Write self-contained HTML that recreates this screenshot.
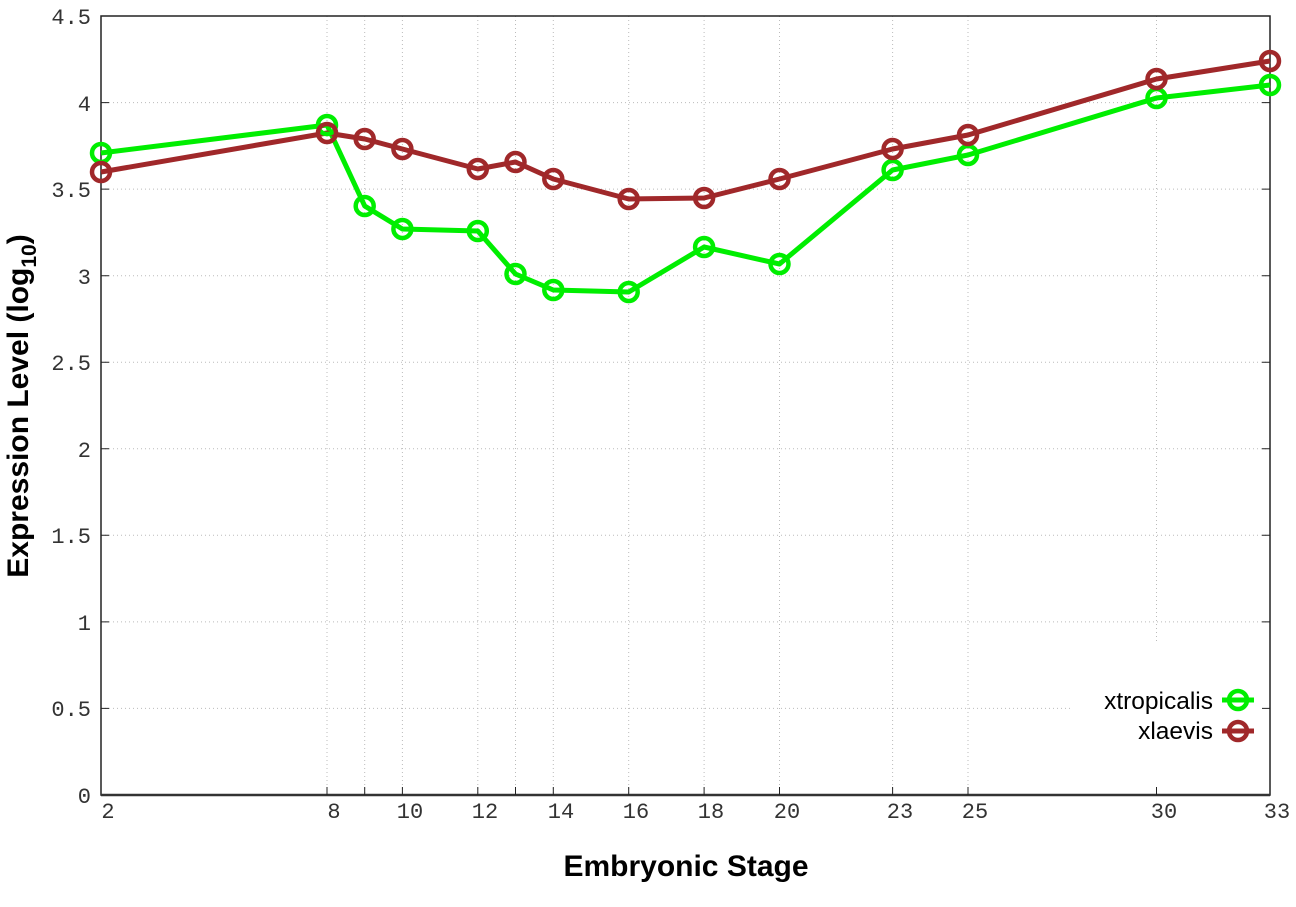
<!DOCTYPE html>
<html><head><meta charset="utf-8"><style>
html,body{margin:0;padding:0;background:#fff;}
svg{display:block;}
.t{font-family:"Liberation Mono",monospace;font-size:22px;fill:#333;}
.b{font-family:"Liberation Sans",sans-serif;font-weight:bold;font-size:30px;fill:#000;}
.l{font-family:"Liberation Sans",sans-serif;font-size:24.5px;fill:#000;}
</style></head><body>
<svg width="1296" height="907" xmlns="http://www.w3.org/2000/svg">
<g stroke="#bbb" stroke-width="1" stroke-dasharray="1,3">
<line x1="101" x2="1270" y1="708.4" y2="708.4"/><line x1="101" x2="1270" y1="621.9" y2="621.9"/>
<line x1="101" x2="1270" y1="535.3" y2="535.3"/><line x1="101" x2="1270" y1="448.8" y2="448.8"/>
<line x1="101" x2="1270" y1="362.2" y2="362.2"/><line x1="101" x2="1270" y1="275.7" y2="275.7"/>
<line x1="101" x2="1270" y1="189.1" y2="189.1"/><line x1="101" x2="1270" y1="102.6" y2="102.6"/>
<line x1="327" x2="327" y1="16" y2="795"/><line x1="364.7" x2="364.7" y1="16" y2="795"/>
<line x1="402.4" x2="402.4" y1="16" y2="795"/><line x1="477.8" x2="477.8" y1="16" y2="795"/>
<line x1="515.5" x2="515.5" y1="16" y2="795"/><line x1="553.3" x2="553.3" y1="16" y2="795"/>
<line x1="628.7" x2="628.7" y1="16" y2="795"/><line x1="704.1" x2="704.1" y1="16" y2="795"/>
<line x1="779.5" x2="779.5" y1="16" y2="795"/><line x1="892.6" x2="892.6" y1="16" y2="795"/>
<line x1="968" x2="968" y1="16" y2="795"/><line x1="1156.5" x2="1156.5" y1="16" y2="795"/>
</g>
<rect x="1070" y="642" width="198" height="152" fill="#fff"/>
<rect x="101" y="16" width="1169" height="779" fill="none" stroke="#222" stroke-width="1.5"/>
<line x1="101" x2="1270" y1="795" y2="795" stroke="#333" stroke-width="2.5"/>
<g stroke="#222" stroke-width="1">
<path d="M101 708.4h8M101 621.9h8M101 535.3h8M101 448.8h8M101 362.2h8M101 275.7h8M101 189.1h8M101 102.6h8M101 16h8"/>
<path d="M1270 708.4h-8M1270 621.9h-8M1270 535.3h-8M1270 448.8h-8M1270 362.2h-8M1270 275.7h-8M1270 189.1h-8M1270 102.6h-8"/>
<path d="M327 795v-8M364.7 795v-8M402.4 795v-8M477.8 795v-8M515.5 795v-8M553.3 795v-8M628.7 795v-8M704.1 795v-8M779.5 795v-8M892.6 795v-8M968 795v-8M1156.5 795v-8"/>
</g>
<g class="t" text-anchor="end">
<text x="91" y="803">0</text><text x="91" y="716">0.5</text><text x="91" y="630">1</text>
<text x="91" y="543">1.5</text><text x="91" y="457">2</text><text x="91" y="370">2.5</text>
<text x="91" y="284">3</text><text x="91" y="197">3.5</text><text x="91" y="111">4</text><text x="91" y="24">4.5</text>
</g>
<g class="t" text-anchor="middle">
<text x="108" y="818">2</text><text x="334" y="818">8</text><text x="410" y="818">10</text>
<text x="485" y="818">12</text><text x="561" y="818">14</text><text x="636" y="818">16</text>
<text x="711" y="818">18</text><text x="787" y="818">20</text><text x="900" y="818">23</text>
<text x="975" y="818">25</text><text x="1164" y="818">30</text><text x="1277" y="818">33</text>
</g>
<text class="b" x="686" y="876" text-anchor="middle">Embryonic Stage</text>
<text class="b" transform="translate(28,406) rotate(-90)" text-anchor="middle">Expression Level (log<tspan font-size="21" dy="8">10</tspan><tspan dy="-8">)</tspan></text>
<g fill="none" stroke-width="5" stroke-linejoin="round">
<polyline stroke="#00ee00" points="101,153 327,125 364.7,206 402.4,229 477.8,231 515.5,274 553.3,290 628.7,292 704.1,247 779.5,264 892.6,170 968,155 1156.5,98 1270,85"/>
<polyline stroke="#a0282a" points="101,172 327,133 364.7,139 402.4,149 477.8,169 515.5,162 553.3,179 628.7,199 704.1,198 779.5,179 892.6,149 968,135 1156.5,79 1270,61"/>
</g>
<g fill="none" stroke="#00ee00" stroke-width="4.5">
<circle cx="101" cy="153" r="9"/><circle cx="327" cy="125" r="9"/><circle cx="364.7" cy="206" r="9"/><circle cx="402.4" cy="229" r="9"/><circle cx="477.8" cy="231" r="9"/><circle cx="515.5" cy="274" r="9"/><circle cx="553.3" cy="290" r="9"/><circle cx="628.7" cy="292" r="9"/><circle cx="704.1" cy="247" r="9"/><circle cx="779.5" cy="264" r="9"/><circle cx="892.6" cy="170" r="9"/><circle cx="968" cy="155" r="9"/><circle cx="1156.5" cy="98" r="9"/><circle cx="1270" cy="85" r="9"/>
</g>
<g fill="none" stroke="#a0282a" stroke-width="4.5">
<circle cx="101" cy="172" r="9"/><circle cx="327" cy="133" r="9"/><circle cx="364.7" cy="139" r="9"/><circle cx="402.4" cy="149" r="9"/><circle cx="477.8" cy="169" r="9"/><circle cx="515.5" cy="162" r="9"/><circle cx="553.3" cy="179" r="9"/><circle cx="628.7" cy="199" r="9"/><circle cx="704.1" cy="198" r="9"/><circle cx="779.5" cy="179" r="9"/><circle cx="892.6" cy="149" r="9"/><circle cx="968" cy="135" r="9"/><circle cx="1156.5" cy="79" r="9"/><circle cx="1270" cy="61" r="9"/>
</g>
<text class="l" x="1213" y="709" text-anchor="end">xtropicalis</text>
<text class="l" x="1213" y="739" text-anchor="end">xlaevis</text>
<line x1="1222" x2="1254" y1="700" y2="700" stroke="#00ee00" stroke-width="5"/>
<circle cx="1238" cy="700" r="9" fill="none" stroke="#00ee00" stroke-width="4.5"/>
<line x1="1222" x2="1254" y1="731" y2="731" stroke="#a0282a" stroke-width="5"/>
<circle cx="1238" cy="731" r="9" fill="none" stroke="#a0282a" stroke-width="4.5"/>
</svg>
</body></html>
